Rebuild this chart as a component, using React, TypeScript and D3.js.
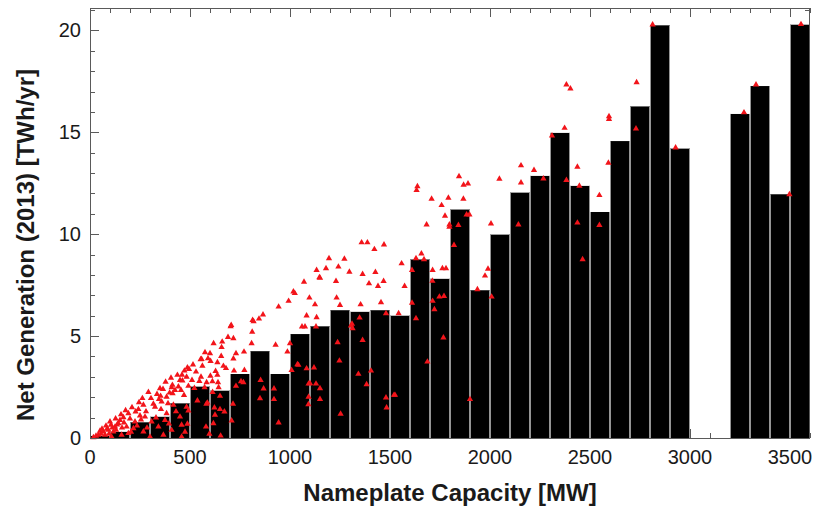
import React from "react";
import * as d3 from "d3";

const binWidth = 100;
const binHeights = [0.1, 0.3, 0.77, 1.04, 1.7, 2.52, 2.32, 3.14, 4.26, 3.14, 5.1, 5.48, 6.27, 6.19, 6.27, 6.0, 8.76, 7.81, 11.21, 7.25, 9.98, 12.04, 12.86, 14.97, 12.37, 11.09, 14.57, 16.27, 20.25, 14.2, 0, 0, 15.9, 17.27, 11.96, 20.28];

const plantPoints: [number, number][] = [
  [17,0.03],[30,0.1],[42,0.15],[50,0.35],[55,0.2],[60,0.45],[67,0.31],[75,0.15],[80,0.6],[85,0.45],[92,0.39],[95,0.2],[100,0.8],[105,0.64],[108,0.06],[112,0.5],[117,0.31],[125,0.55],[128,0.95],[130,0.4],[135,0.65],[142,0.72],[150,0.88],[155,1.15],[158,0.15],[160,0.5],[167,1.01],[170,0.75],[178,1.35],[183,0.55],[192,1.21],[192,0.23],[200,0.95],[205,0.3],[210,1.5],[217,0.47],[225,0.8],[228,1.29],[235,0.6],[242,1.41],[245,1.75],[250,1.1],[255,0.9],[262,1.95],[267,1.62],[267,0.31],[275,1.04],[280,1.3],[285,0.5],[292,2.25],[300,0.06],[305,1.95],[308,0.8],[317,1.67],[325,1.53],[330,1.0],[335,2.15],[342,0.55],[345,1.9],[350,2.43],[353,2.06],[355,1.41],[358,1.78],[365,2.4],[367,0.15],[375,0.88],[378,2.75],[383,2.02],[383,1.21],[390,1.7],[395,0.7],[398,2.22],[405,2.95],[408,0.39],[408,2.48],[412,2.6],[413,2.19],[417,1.62],[425,2.35],[430,1.3],[437,3.09],[442,2.52],[450,2.84],[450,1.04],[458,0.64],[460,3.1],[470,2.1],[472,3.3],[475,0.3],[483,1.53],[487,3.45],
  [455,2.35],[458,0.06],[462,2.81],[483,3.0],[487,0.69],[492,2.55],[492,1.34],[495,3.38],[510,2.84],[515,3.6],[522,2.45],[530,3.25],[537,1.83],[547,2.79],[553,3.86],[558,3.87],[555,3.0],[562,3.54],[573,2.48],[575,4.2],[580,0.55],[582,1.67],[583,2.73],[587,1.73],[590,3.9],[597,0.2],[600,4.15],[602,3.05],[603,3.77],[612,2.78],[613,2.25],[617,0.72],[618,4.64],[622,1.49],[625,1.13],[628,3.28],[637,3.71],[637,3.09],[640,2.73],[643,2.48],[650,2.06],[650,1.41],[653,0.11],[656,4.02],[658,4.45],[661,4.72],[667,3.53],[672,1.29],[680,3.42],[690,4.95],[703,5.47],[706,5.54],[708,0.85],[715,1.67],[717,4.89],[717,3.89],[720,3.3],[730,4.15],[730,2.55],[755,2.78],[767,2.73],[770,4.23],[772,3.33],[808,4.64],[811,5.21],[813,5.78],[818,5.72],[845,5.85],[850,1.94],[853,2.84],[865,6.05],[868,2.42],[920,2.42],[920,1.9],[928,4.57],[943,6.44],[943,0.75],[987,4.23],[993,6.72],[1000,4.64],
  [1008,3.33],[1017,7.18],[1024,7.1],[1037,3.61],[1042,3.58],[1060,5.46],[1070,7.66],[1075,5.46],[1083,6.0],[1083,3.41],[1092,1.65],[1093,2.66],[1093,2.02],[1097,6.88],[1100,2.68],[1120,3.45],[1125,6.55],[1130,5.46],[1130,2.66],[1133,8.24],[1133,5.92],[1147,7.88],[1150,7.86],[1150,1.91],[1150,2.43],[1180,8.32],[1195,8.81],[1230,7.7],[1233,6.88],[1238,4.69],[1242,8.4],[1247,3.79],[1250,6.52],[1253,1.18],[1272,8.79],[1297,8.15],[1305,5.51],[1310,5.6],[1313,5.38],[1342,3.14],[1348,5.9],[1353,6.55],[1358,9.59],[1363,8.04],[1363,4.8],[1383,2.63],[1387,9.59],[1395,7.58],[1405,3.3],[1422,9.26],[1427,8.14],[1440,7.45],[1455,6.65],[1468,7.7],[1470,9.49],[1480,6.11],[1480,1.98],[1483,1.49],
  [1520,2.11],[1525,2.11],[1543,6.11],[1558,8.56],[1573,7.45],[1610,8.24],[1610,6.63],[1630,8.81],[1630,5.87],[1633,12.16],[1637,12.35],[1657,9.05],[1670,8.76],[1683,10.47],[1687,3.74],[1708,11.73],[1712,7.71],[1713,8.24],[1713,6.72],[1722,6.31],[1747,6.93],[1758,11.42],[1762,8.32],[1767,4.92],[1770,6.96],[1775,10.9],[1780,8.32],[1792,11.78],[1797,10.47],[1797,10.36],[1820,9.46],[1842,10.44],[1845,12.84],[1867,11.73],[1868,12.42],[1883,10.96],[1890,12.48],[1897,10.96],[1900,1.9],[1937,7.29],[1975,7.96],[1990,8.3],
  [2005,10.52],[2008,6.93],[2047,12.71],[2142,10.47],[2155,13.37],[2155,12.53],[2220,13.14],[2267,12.73],[2310,14.84],[2373,15.21],[2382,17.34],[2402,17.14],[2382,12.65],[2437,13.3],[2447,12.37],[2437,10.56],[2463,8.76],[2547,11.91],[2547,10.44],[2592,13.5],[2595,15.78],[2595,15.65],[2730,15.18],[2733,17.45],[2813,20.28],[2928,14.25],[3270,15.97],[3330,17.34],[3497,11.95],[3555,20.3]
];

const xTickValues = [0, 500, 1000, 1500, 2000, 2500, 3000, 3500];
const yTickValues = [0, 5, 10, 15, 20];
const xTitle = "Nameplate Capacity [MW]";
const yTitle = "Net Generation (2013) [TWh/yr]";

export default function App() {
  const W = 831, H = 508;
  const left = 90, right = 810, top = 8, bottom = 438;
  const x = d3.scaleLinear().domain([0, 3600]).range([left, right]);
  const y = d3.scaleLinear().domain([0, 21.1]).range([bottom, top]);
  const xMinor = d3.range(0, 3601, 100);
  const yMinor = d3.range(0, 22, 1);
  const tri = d3.symbol().type(d3.symbolTriangle).size(17)() as string;
  const axisColor = "#5a5a5a";
  const font = "'Liberation Sans', Arial, Helvetica, sans-serif";
  return (
    <svg width={W} height={H} style={{ position: "absolute", left: 0, top: 0, background: "#fff" }}>
      <rect x={0} y={0} width={W} height={H} fill="#fff" />
      <g stroke={axisColor} strokeWidth={1}>
        {xMinor.map((v) => {
          const major = v % 500 === 0;
          const len = major ? 9 : 5;
          const px = Math.round(x(v)) + 0.5;
          return (
            <g key={"xt" + v}>
              <line x1={px} x2={px} y1={bottom} y2={bottom - len} />
              <line x1={px} x2={px} y1={top} y2={top + len} />
            </g>
          );
        })}
        {yMinor.map((v) => {
          const major = v % 5 === 0;
          const len = major ? 9 : 5;
          const py = Math.round(y(v)) + 0.5;
          return (
            <g key={"yt" + v}>
              <line x1={left} x2={left + len} y1={py} y2={py} />
              <line x1={right} x2={right - len} y1={py} y2={py} />
            </g>
          );
        })}
      </g>
      <g>
        {binHeights.map((h, i) => {
          if (h <= 0) return null;
          const x0 = x(i * binWidth);
          const x1 = x((i + 1) * binWidth);
          return (
            <g key={"b" + i}>
              <rect x={x0} y={y(h)} width={x1 - x0} height={bottom - y(h)} fill="#000" />
              <line x1={x0 + 0.5} x2={x0 + 0.5} y1={y(h)} y2={bottom} stroke="#959595" strokeWidth={1} />
              <line x1={x1 - 0.5} x2={x1 - 0.5} y1={y(h)} y2={bottom} stroke="#959595" strokeWidth={1} />
            </g>
          );
        })}
      </g>
      <g fill="#f2141a">
        {plantPoints.map(([mw, twh], i) => (
          <path key={"p" + i} d={tri} transform={`translate(${x(mw)},${y(twh)})`} />
        ))}
      </g>
      <rect x={left + 0.5} y={top + 0.5} width={right - left - 1} height={bottom - top} fill="none" stroke={axisColor} strokeWidth={1} />
      <g fontFamily={font} fontSize={20} fill="#1a1a1a">
        {xTickValues.map((v) => (
          <text key={"xl" + v} x={x(v)} y={bottom + 26} textAnchor="middle">{v}</text>
        ))}
        {yTickValues.map((v) => (
          <text key={"yl" + v} x={left - 9} y={y(v) + 7} textAnchor="end">{v}</text>
        ))}
      </g>
      <text x={(left + right) / 2} y={501} textAnchor="middle" fontFamily={font} fontWeight="bold" fontSize={24} fill="#1a1a1a">{xTitle}</text>
      <text transform={`translate(34,${(top + bottom) / 2 + 22}) rotate(-90)`} textAnchor="middle" fontFamily={font} fontWeight="bold" fontSize={24} fill="#1a1a1a">{yTitle}</text>
    </svg>
  );
}
